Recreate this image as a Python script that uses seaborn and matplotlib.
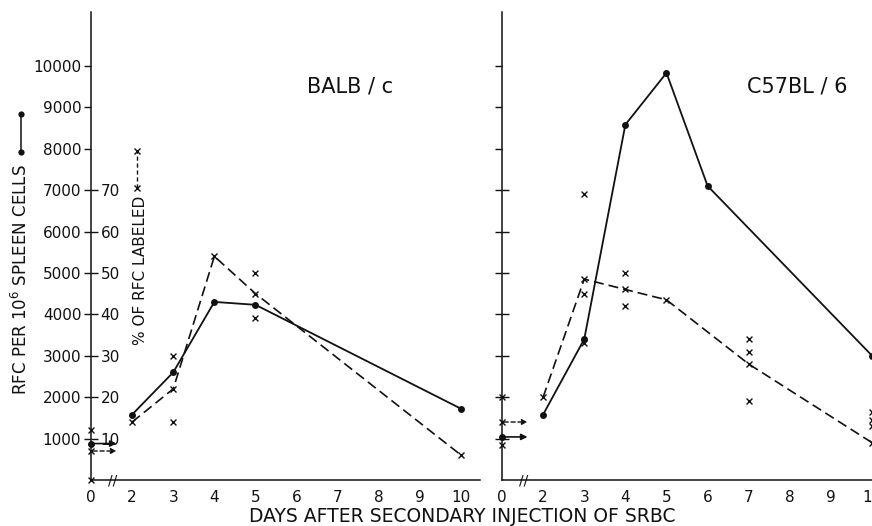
import numpy as np
import pandas as pd
import matplotlib
matplotlib.use("Agg")
import matplotlib.pyplot as plt
from matplotlib.lines import Line2D
import seaborn as sns

# ---------------- data ----------------
balb_rfc_days = [2, 3, 4, 5, 10]
balb_rfc = [1580, 2600, 4300, 4230, 1720]
balb_pct_days = [2, 3, 4, 5, 10]
balb_pct = [14, 22, 54, 45, 6]
balb_scatter_days = [0, 0, 3, 3, 5, 5]
balb_scatter_pct = [12, 0, 30, 14, 50, 39]
balb_rfc_day0 = 880
balb_pct_day0 = 7

c57_rfc_days = [2, 3, 4, 5, 6, 10]
c57_rfc = [1580, 3400, 8580, 9830, 7100, 3000]
c57_pct_days = [2, 3, 4, 5, 7, 10]
c57_pct = [20, 48.5, 46, 43.5, 28, 9]
c57_scatter_days = [0, 0, 3, 3, 3, 4, 4, 7, 7, 7, 10, 10, 10]
c57_scatter_pct = [20, 8.5, 69, 45, 33, 50, 42, 34, 31, 19, 16.5, 14.5, 13]
c57_rfc_day0 = 1040
c57_pct_day0 = 14

x_tick_days = [0, 2, 3, 4, 5, 6, 7, 8, 9, 10]
rfc_ticks = [1000, 2000, 3000, 4000, 5000, 6000, 7000, 8000, 9000, 10000]
pct_ticks = [10, 20, 30, 40, 50, 60, 70]
titles = ["BALB / c", "C57BL / 6"]
x_label = "DAYS AFTER SECONDARY INJECTION OF SRBC"
rfc_label = "RFC PER 10$^6$ SPLEEN CELLS"
pct_label = "% OF RFC LABELED"


def xpos(days):
    # axis break: day 0 is drawn one unit left of day 2
    return [1 if d == 0 else d for d in days]


sns.set_style("white")
plt.rcParams["font.family"] = ["DejaVu Sans"]
INK = "#111111"

W, H = 872, 526
fig = plt.figure(figsize=(W / 100, H / 100), dpi=100)

panels = [
    dict(left=91, data=(balb_rfc_days, balb_rfc, balb_pct_days, balb_pct,
                        balb_scatter_days, balb_scatter_pct,
                        balb_rfc_day0, balb_pct_day0), labels=True),
    dict(left=502, data=(c57_rfc_days, c57_rfc, c57_pct_days, c57_pct,
                         c57_scatter_days, c57_scatter_pct,
                         c57_rfc_day0, c57_pct_day0), labels=False),
]

bottom_px, top_px = 480, 12
axw = 389
YMAX = 11300
XMAX = 10.46

for p in panels:
    (rd, rv, pd_, pv, sd, sv, r0, p0) = p["data"]
    ax = fig.add_axes([p["left"] / W, (H - bottom_px) / H, axw / W,
                       (bottom_px - top_px) / H])
    ax.set_xlim(1, XMAX)
    ax.set_ylim(0, YMAX)
    ax2 = ax.twinx()
    ax2.set_ylim(0, YMAX / 100)

    for s in ["top", "right"]:
        ax.spines[s].set_visible(False)
    for s in ax2.spines.values():
        s.set_visible(False)
    ax.spines["left"].set_color(INK)
    ax.spines["bottom"].set_color(INK)
    ax.spines["left"].set_linewidth(1.1)
    ax.spines["bottom"].set_linewidth(1.1)
    ax2.spines["right"].set_position(("axes", 0))

    # RFC solid line
    sns.lineplot(x=xpos(rd), y=rv, ax=ax, color=INK, lw=1.3, marker="o",
                 markersize=5, markeredgewidth=0, sort=False)
    # % labeled dashed line
    sns.lineplot(x=xpos(pd_), y=pv, ax=ax2, color=INK, lw=1.2,
                 linestyle=(0, (6, 3)), marker="x", markersize=4.5,
                 markeredgewidth=1.0, markeredgecolor=INK, sort=False)
    # individual % values
    sns.scatterplot(x=xpos(sd), y=sv, ax=ax2, color=INK, marker="x", s=18,
                    linewidth=1.0, clip_on=False)
    # day-0 baseline values with arrows
    ax.plot(xpos([0]), [r0], "o", color=INK, markersize=5, mew=0, clip_on=False)
    ax2.plot(xpos([0]), [p0], "x", color=INK, markersize=4.5, mew=1.0,
             clip_on=False)
    ax.annotate("", xy=(1.62, r0), xytext=(1, r0),
                arrowprops=dict(arrowstyle="-|>", color=INK, lw=1.2,
                                mutation_scale=9, shrinkA=0, shrinkB=0))
    ax2.annotate("", xy=(1.62, p0), xytext=(1.05, p0),
                 arrowprops=dict(arrowstyle="-|>", color=INK, lw=1.0,
                                 linestyle=(0, (3, 2)), mutation_scale=8,
                                 shrinkA=0, shrinkB=0))
    # axis break mark
    ax.text(1.52, 0, "//", ha="center", va="center", fontsize=10, color=INK)

    ax.set_xticks(xpos(x_tick_days))
    ax.set_xticklabels([str(d) for d in x_tick_days])
    ax.tick_params(axis="x", direction="in", length=7, width=1.0, pad=7,
                   labelsize=11, colors=INK)
    ax.set_yticks(rfc_ticks)
    ax.set_yticklabels([str(v) for v in rfc_ticks])
    ax.tick_params(axis="y", direction="out", length=5, width=1.0, pad=2,
                   labelsize=11, colors=INK, labelleft=p["labels"])
    ax2.set_yticks(pct_ticks)
    ax2.set_yticklabels([str(v) for v in pct_ticks])
    ax2.tick_params(axis="y", direction="out", length=5, width=1.0, pad=2,
                    labelsize=11, colors=INK, labelright=p["labels"])
    # hide the x tick at the break position (day 0)
    ax.xaxis.get_major_ticks()[0].tick1line.set_visible(False)
    ax.set_xlabel("")
    ax.set_ylabel("")
    ax2.set_ylabel("")

# titles
fig.text(350 / W, 1 - 86 / H, titles[0], ha="center", va="center",
         fontsize=15, color=INK)
fig.text(797 / W, 1 - 86 / H, titles[1], ha="center", va="center",
         fontsize=15, color=INK)

# axis titles
fig.text(462 / W, 1 - 517 / H, x_label, ha="center", va="center",
         fontsize=13.5, color=INK)
fig.text(21 / W, 1 - 280 / H, rfc_label, ha="center", va="center",
         rotation=90, fontsize=12, color=INK)
fig.text(140 / W, 1 - 270 / H, pct_label, ha="center", va="center",
         rotation=90, fontsize=11, color=INK)

# legend glyphs next to the axis titles
fig.add_artist(Line2D([21 / W, 21 / W], [1 - 152 / H, 1 - 114 / H],
                      transform=fig.transFigure, color=INK, lw=1.1,
                      marker="o", markersize=4.5, mew=0))
fig.add_artist(Line2D([137 / W, 137 / W], [1 - 188 / H, 1 - 151 / H],
                      transform=fig.transFigure, color=INK, lw=1.0,
                      linestyle=(0, (3, 2)), marker="x", markersize=4,
                      mew=1.0))

fig.savefig("out.png", dpi=100)
